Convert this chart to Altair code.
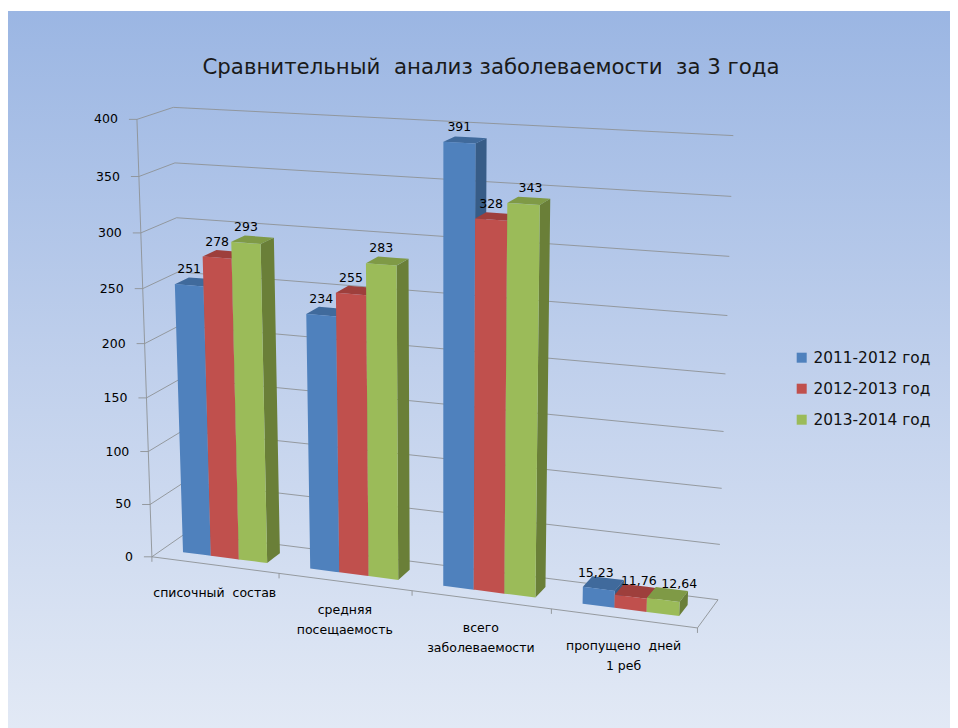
import altair as alt
import numpy as np
import pandas as pd

# ---- chart values -------------------------------------------------------
TITLE = "Сравнительный\u00a0 анализ заболеваемости\u00a0 за 3 года"
CATEGORIES = ["списочный\u00a0 состав", "средняя\nпосещаемость", "всего\nзаболеваемости", "пропущено\u00a0 дней\n1 реб"]
SERIES = ["2011-2012 год", "2012-2013 год", "2013-2014 год"]
VALUES_2011 = [251, 234, 391, 15.23]
VALUES_2012 = [278, 255, 328, 11.76]
VALUES_2013 = [293, 283, 343, 12.64]
AXIS_TICKS = [0, 50, 100, 150, 200, 250, 300, 350, 400]

# ---- styles -------------------------------------------------------------
FRONT = ["#4F81BD", "#C0504D", "#9BBB59"]
SIDE = ["#375C87", "#8A3836", "#6A7F38"]
TOP = ["#406A9C", "#9E3F3C", "#7F9A46"]
GRID = "#8E9296"
FONT = "DejaVu Sans"
AXIS_MAX = 400.0
GAP = 1.5        # gap width as a share of a bar's width
BAR_W = 0.25 / (3 + GAP)
V0, V1 = 0.3, 0.7
LABEL_NUDGE = {(2, 2): 7, (3, 0): -3, (3, 1): 8, (3, 2): 16}

# ---- perspective of the 3-D box, fitted on its visible corners ----------
CALIBRATION = [
    ((0, 0, 0), (153, 557)), ((.25, 0, 0), (279, 574)), ((.5, 0, 0), (412, 592)),
    ((.75, 0, 0), (550, 610)), ((1, 0, 0), (698, 627)), ((0, 1, 0), (184, 534)),
    ((1, 1, 0), (718, 600)), ((0, 0, 1), (135, 120)), ((0, 1, 1), (175, 107)),
    ((1, 1, 1), (733, 136)),
    ((.0417, .3, .6275), (175, 285)), ((.0417, .3, 0), (183, 551)),
    ((.5417, .3, 0), (443, 585)), ((.5417, .3, .9775), (443, 141)),
    ((.9583, .3, 0), (679, 617)), ((.4583, .3, 0), (399, 579)),
    ((.4583, .3, .7075), (397, 265)), ((.7083, .3, 0), (536, 597)),
    ((.7083, .3, .8575), (540, 205)), ((.2083, .3, 0), (268, 562)),
    ((.2083, .3, .7325), (261, 244)),
]
A, B = [], []
for (u, v, h), (px, py) in CALIBRATION:
    A.append([u, v, h, 1, 0, 0, 0, 0, -px * u, -px * v, -px * h]); B.append(px)
    A.append([0, 0, 0, 0, u, v, h, 1, -py * u, -py * v, -py * h]); B.append(py)
M = np.linalg.lstsq(np.array(A, float), np.array(B, float), rcond=None)[0]


def project(u, v, value):
    h = value / AXIS_MAX
    w = M[8] * u + M[9] * v + M[10] * h + 1
    return ((M[0] * u + M[1] * v + M[2] * h + M[3]) / w,
            (M[4] * u + M[5] * v + M[6] * h + M[7]) / w)


def polygon_rows(face, poly, **extra):
    """Turn a convex polygon into x / y / y2 rows for an area mark."""
    rows = []
    n = len(poly)
    for x in sorted({round(p[0], 3) for p in poly}):
        ys = []
        for i in range(n):
            (x0, y0), (x1, y1) = poly[i], poly[(i + 1) % n]
            lo, hi = min(x0, x1), max(x0, x1)
            if lo - 0.002 <= x <= hi + 0.002:
                if abs(x1 - x0) < 1e-6:
                    ys += [y0, y1]
                else:
                    ys.append(y0 + (y1 - y0) * (x - x0) / (x1 - x0))
        rows.append(dict(face=face, x=x, y=min(ys), y2=max(ys), **extra))
    return rows


# ---- faces --------------------------------------------------------------
series_values = [VALUES_2011, VALUES_2012, VALUES_2013]
front_rows, back_rows, label_rows = [], [], []
for c in range(len(CATEGORIES)):
    for s, vals in enumerate(series_values):
        val = vals[c]
        u0 = c * 0.25 + GAP * BAR_W / 2 + s * BAR_W
        u1 = u0 + BAR_W
        front = [project(u0, V0, 0), project(u1, V0, 0), project(u1, V0, val), project(u0, V0, val)]
        side = [project(u1, V0, 0), project(u1, V1, 0), project(u1, V1, val), project(u1, V0, val)]
        top = [project(u0, V0, val), project(u1, V0, val), project(u1, V1, val), project(u0, V1, val)]
        back_rows += polygon_rows(f"s{c}{s}", side, fill=SIDE[s])
        back_rows += polygon_rows(f"t{c}{s}", top, fill=TOP[s])
        front_rows += polygon_rows(f"f{c}{s}", front, series=SERIES[s])
        cx, cy = project((u0 + u1) / 2, V0, val)
        label_rows.append(dict(x=cx + LABEL_NUDGE.get((c, s), 0), y=cy - 16,
                               text=str(val).replace(".", ",")))

# ---- box lines ----------------------------------------------------------
line_rows = []


def add_line(a, b):
    line_rows.append(dict(x=a[0], y=a[1], x2=b[0], y2=b[1]))


for t in AXIS_TICKS:
    back_left, back_right, front_left = project(0, 1, t), project(1, 1, t), project(0, 0, t)
    add_line(back_left, back_right)
    add_line(front_left, back_left)
    add_line(front_left, (front_left[0] - 8, front_left[1]))
add_line(project(0, 0, 0), project(0, 0, AXIS_MAX))
add_line(project(0, 0, 0), project(1, 0, 0))
add_line(project(1, 0, 0), project(1, 1, 0))
for c in range(len(CATEGORIES) + 1):
    p = project(c * 0.25, 0, 0)
    add_line(p, (p[0], p[1] + 5))

axis_rows = []
for t in AXIS_TICKS:
    p = project(0, 0, t)
    axis_rows.append(dict(x=p[0] - 19, y=p[1], text=str(t)))
cat_rows = []
for c, name in enumerate(CATEGORIES):
    p = project((c + 0.5) * 0.25, 0, 0)
    cat_rows.append(dict(x=p[0], y=p[1] + 22, text=name))

# ---- chart --------------------------------------------------------------
X = alt.X("x:Q", axis=None, scale=alt.Scale(domain=[8, 950], range=[0, 942], nice=False, zero=False))
Y = alt.Y("y:Q", axis=None, scale=alt.Scale(domain=[8, 728], range=[0, 720], nice=False, zero=False))

background = alt.Chart(pd.DataFrame([dict(x=8, x2=950, y=11, y2=728)])).mark_rect(
    fill=alt.Gradient(gradient="linear", x1=0, y1=0, x2=0, y2=1,
                      stops=[alt.GradientStop(color="#9BB6E3", offset=0),
                             alt.GradientStop(color="#C0D0EC", offset=0.5),
                             alt.GradientStop(color="#E2E9F5", offset=1)])
).encode(X, alt.X2("x2:Q"), Y, alt.Y2("y2:Q"))

lines = alt.Chart(pd.DataFrame(line_rows)).mark_rule(color=GRID, strokeWidth=1, opacity=0.9).encode(
    X, alt.X2("x2:Q"), Y, alt.Y2("y2:Q"))

backs = alt.Chart(pd.DataFrame(back_rows)).mark_area(orient="vertical", interpolate="linear").encode(
    X, Y, alt.Y2("y2:Q"), alt.Detail("face:N"), alt.Fill("fill:N", scale=None))

fronts = alt.Chart(pd.DataFrame(front_rows)).mark_area(orient="vertical", interpolate="linear").encode(
    X, Y, alt.Y2("y2:Q"), alt.Detail("face:N"),
    alt.Color("series:N", sort=SERIES, scale=alt.Scale(domain=SERIES, range=FRONT),
              legend=alt.Legend(title=None, orient="none", legendX=786, legendY=342, padding=0,
                                symbolType="square", symbolSize=100, symbolStrokeWidth=0,
                                labelFont=FONT, labelFontSize=15.4, labelColor="#111111",
                                labelOffset=4, rowPadding=14, labelLimit=200)))

labels = alt.Chart(pd.DataFrame(label_rows)).mark_text(
    font=FONT, fontSize=12.5, color="#000000", align="center", baseline="middle").encode(X, Y, alt.Text("text:N"))

axis_labels = alt.Chart(pd.DataFrame(axis_rows)).mark_text(
    font=FONT, fontSize=12.5, color="#000000", align="right", baseline="middle").encode(X, Y, alt.Text("text:N"))

cat_labels = alt.Chart(pd.DataFrame(cat_rows)).mark_text(
    font=FONT, fontSize=12.5, color="#000000", align="center", baseline="top",
    lineBreak="\n", lineHeight=20).encode(X, Y, alt.Text("text:N"))

chart = alt.layer(background, lines, backs, fronts, labels, axis_labels, cat_labels).properties(
    width=942, height=720, padding=0,
    autosize=alt.AutoSizeParams(type="none"),
    title=alt.TitleParams(text=TITLE, font=FONT, fontSize=21.3, fontWeight="normal", color="#1A1A1A",
                          anchor="middle", dx=12, offset=-70, zindex=1),
).configure_view(stroke=None)

chart.save("out.html", embed_options={"renderer": "svg", "actions": False})
